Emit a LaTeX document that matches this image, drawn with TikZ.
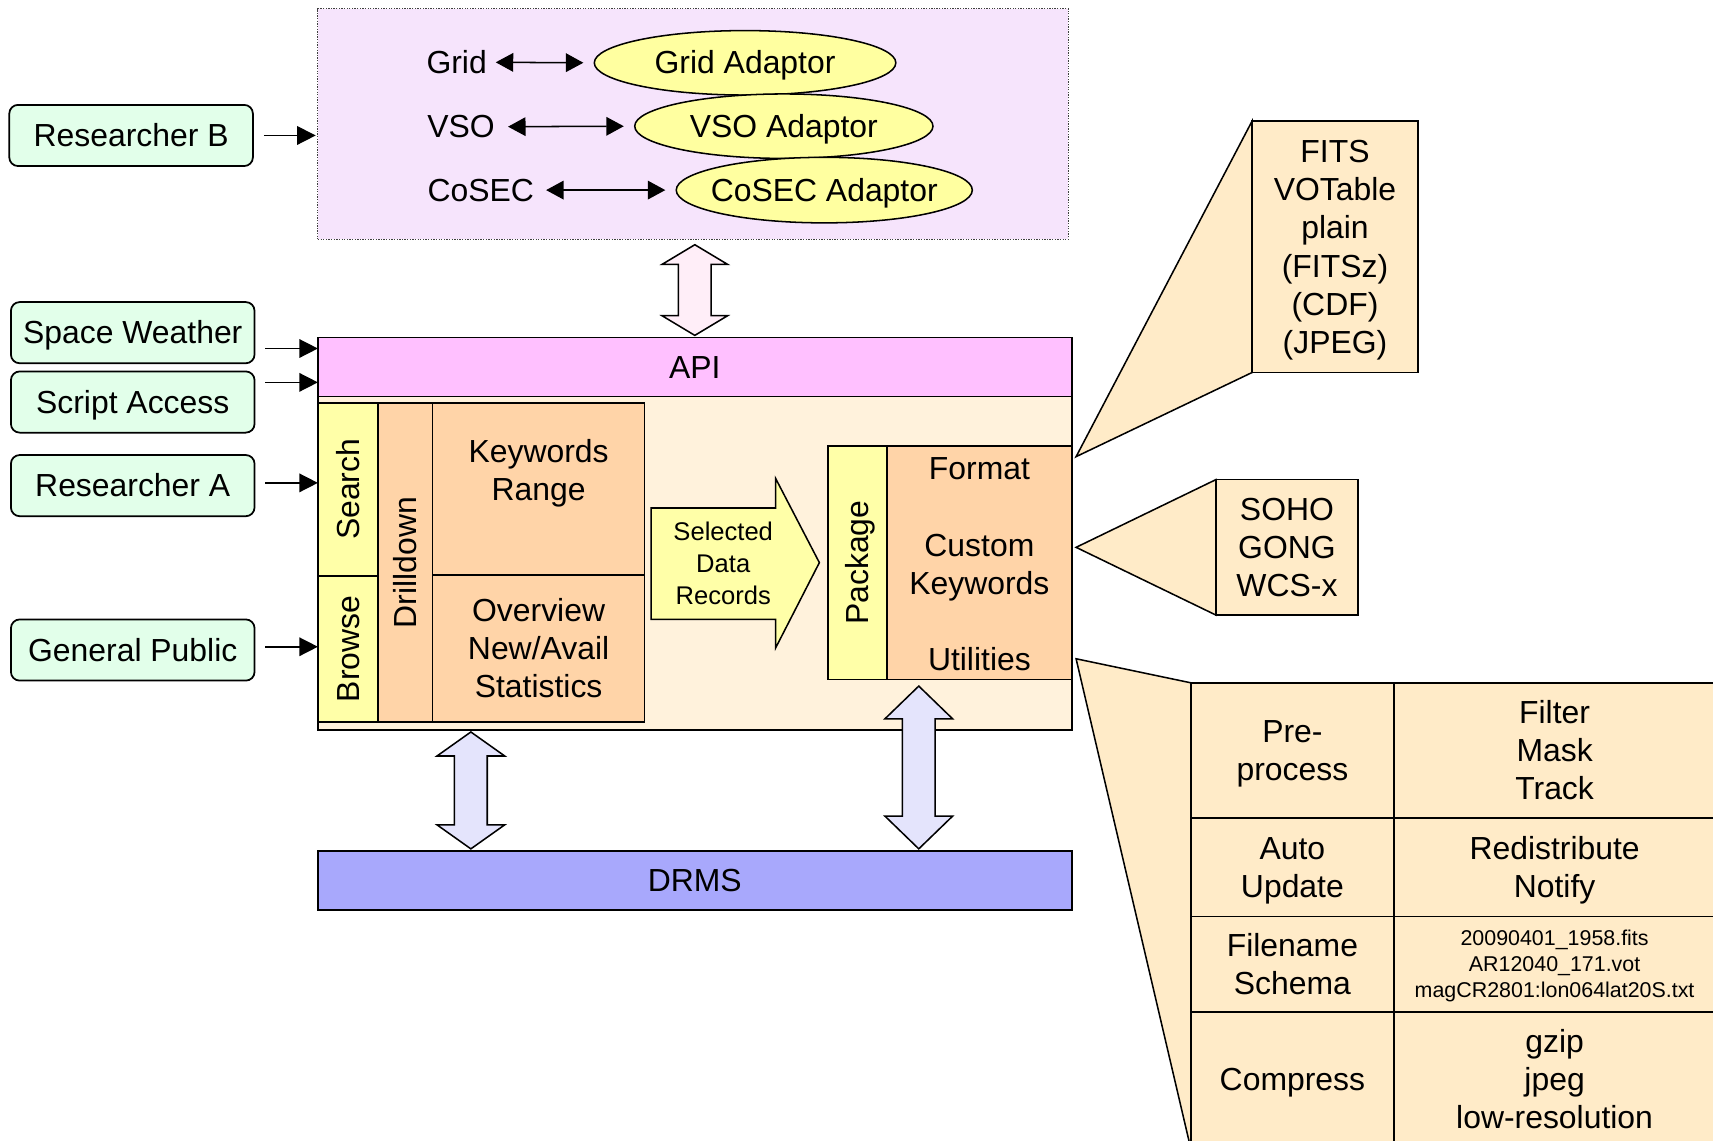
\documentclass[tikz,border=0pt]{standalone}
\usepackage{fontspec}
\setmainfont{Liberation Sans}
\usetikzlibrary{arrows.meta,shapes.geometric}
\definecolor{lavbg}{RGB}{246,228,252}
\definecolor{adyellow}{RGB}{255,255,160}
\definecolor{mint}{RGB}{226,255,234}
\definecolor{apipink}{RGB}{255,192,255}
\definecolor{cream}{RGB}{255,242,220}
\definecolor{paneyellow}{RGB}{255,255,168}
\definecolor{peach}{RGB}{255,212,168}
\definecolor{drmsblue}{RGB}{168,168,252}
\definecolor{lavarrow}{RGB}{228,228,252}
\definecolor{pinkarrow}{RGB}{255,238,248}
\definecolor{callout}{RGB}{255,235,200}
\newcommand\bigfont{\fontsize{29.2bp}{35bp}\selectfont}
\newcommand\midfont{\fontsize{23.4bp}{29bp}\selectfont}
\newcommand\tinyfont{\fontsize{19.6bp}{23.5bp}\selectfont}
\newcommand\lnstrut{\rule[-0.212em]{0pt}{1.117em}}
\newcommand\bdarrow[7]{%
  \filldraw[fill=#7, draw=black, line width=1.4bp, line join=miter]
    (#1,#2) -- (#1+#4,#2+#6) -- (#1+#5,#2+#6) -- (#1+#5,#3-#6) -- (#1+#4,#3-#6)
    -- (#1,#3) -- (#1-#4,#3-#6) -- (#1-#5,#3-#6) -- (#1-#5,#2+#6) -- (#1-#4,#2+#6) -- cycle;}
\tikzset{
  every node/.style={execute at begin node=\lnstrut, execute at end node=\lnstrut},
  box/.style={draw=black, line width=1.6bp, inner sep=0pt, outer sep=0pt, font=\bigfont, align=center},
  greenbox/.style={box, fill=mint, rounded corners=8bp, minimum width=223bp, minimum height=56bp},
  adaptor/.style={box, ellipse, fill=adyellow, line width=1.4bp},
  ypanel/.style={box, fill=paneyellow},
  ppanel/.style={box, fill=peach},
  cobox/.style={box, fill=callout},
  txt/.style={font=\bigfont, inner sep=2bp, align=center},
  conn/.style={line width=1.4bp, -{Triangle[length=17bp,width=17bp]}},
  dconn/.style={line width=1.4bp, {Triangle[length=16bp,width=17bp]}-{Triangle[length=16bp,width=17bp]}},
}
\begin{document}
\begin{tikzpicture}[x=1bp,y=-1bp]
\clip (0,0) rectangle (1568,1044.4);
\fill[white] (0,0) rectangle (1568,1044.4);

% ---- adaptor area
\node[box, draw=black!75, line width=0.9bp, dash pattern=on 1.2bp off 1.2bp, fill=lavbg,
      minimum width=687bp, minimum height=211bp] (adapt) at (634.5,113.5) {};
\node[adaptor, minimum width=276bp, minimum height=59bp] (ga) at (682,57.5) {};
\node[txt] at (ga) {Grid Adaptor};
\node[adaptor, minimum width=273bp, minimum height=59bp] (va) at (717.5,115.5) {};
\node[txt] at (va) {VSO Adaptor};
\node[adaptor, minimum width=271bp, minimum height=60bp] (ca) at (754.5,174) {};
\node[txt] at (ca) {CoSEC Adaptor};
\node[txt] (grid) at (418,57) {Grid};
\node[txt] (vso) at (422,116) {VSO};
\node[txt] (cosec) at (440,174) {CoSEC};
\draw[dconn, shorten <=6bp, shorten >=10bp] (grid.east) -- (ga.west);
\draw[dconn, shorten <=10bp, shorten >=10bp] (vso.east) -- (va.west);
\draw[dconn, shorten <=9bp, shorten >=10bp] (cosec.east) -- (ca.west);

% ---- users
\node[greenbox] (rb) at (120,124) {Researcher B};
\node[greenbox] (sw) at (121.5,304.5) {Space Weather};
\node[greenbox] (sa) at (121.5,368) {Script Access};
\node[greenbox] (ra) at (121.5,444.5) {Researcher A};
\node[greenbox] (gp) at (121.5,595) {General Public};

% ---- main
\node[box, fill=cream, minimum width=690bp, minimum height=305bp] (cont) at (636,515.5) {};
\node[box, fill=apipink, minimum width=690bp, minimum height=54bp] (api) at (636,336) {API};
\node[box, fill=drmsblue, minimum width=690bp, minimum height=54bp] (drms) at (636,806) {DRMS};

\node[ypanel, rotate=90, minimum width=158bp, minimum height=55bp] (search) at (318.5,448) {Search};
\node[ypanel, rotate=90, minimum width=134bp, minimum height=55bp] (browse) at (318.5,594) {Browse};
\node[ppanel, rotate=90, minimum width=292bp, minimum height=50bp] (drill) at (371,515) {Drilldown};
\node[ppanel, minimum width=194bp, minimum height=157bp] (kr) at (493,447.5) {};
\node[txt] (krt) at (493,430.5) {\lnstrut Keywords\\Range};
\node[ppanel, minimum width=194bp, minimum height=135bp] (ov) at (493,593.5) {\lnstrut Overview\\New/Avail\\Statistics};

\filldraw[fill=paneyellow, draw=black, line width=1.4bp, line join=miter]
  (596,465) -- (710,465) -- (710,438) -- (750,515) -- (710,593) -- (710,567) -- (596,567) -- cycle;
\node[font=\midfont, align=center, inner sep=0pt] (sdr) at (662,516) {\lnstrut Selected\\Data\\Records};

\node[ypanel, rotate=90, minimum width=214bp, minimum height=54bp] (pkg) at (785,515) {Package};
\node[ppanel, minimum width=169bp, minimum height=214bp] (fmt) at (896.5,515) {};
\node[txt] (fmt1) at (896.5,429) {Format};
\node[txt] (fmt2) at (896.5,516.5) {\lnstrut Custom\\Keywords};
\node[txt] (fmt3) at (896.5,604) {Utilities};

% ---- block arrows
\bdarrow{636}{224}{307}{30}{15}{18}{pinkarrow}
\bdarrow{431}{670}{777}{31}{15}{22}{lavarrow}
\bdarrow{841}{628}{777}{31}{15}{30}{lavarrow}

% ---- user arrows
\draw[conn, shorten <=10bp, shorten >=2bp] (rb.east) -- (rb.east -| adapt.west);
\coordinate (swa) at ([xshift=10bp,yshift=-14.5bp]sw.east);
\draw[conn] (swa) -- (swa -| api.west);
\coordinate (saa) at ([xshift=10bp,yshift=18bp]sa.east);
\draw[conn] (saa) -- (saa -| api.west);
\coordinate (raa) at ([xshift=10bp,yshift=2.5bp]ra.east);
\draw[conn] (raa) -- (raa -| cont.west);
\coordinate (gpa) at ([xshift=10bp,yshift=3bp]gp.east);
\draw[conn] (gpa) -- (gpa -| cont.west);

% ---- callout 1
\filldraw[fill=callout, draw=black, line width=1.4bp, line join=miter]
  (1146,111) -- (985,418) -- (1146,341) -- cycle;
\node[cobox, minimum width=152bp, minimum height=230bp] (fits) at (1222,226)
  {\lnstrut FITS\\VOTable\\plain\\(FITSz)\\(CDF)\\(JPEG)};

% ---- callout 2
\filldraw[fill=callout, draw=black, line width=1.4bp, line join=miter]
  (1113,439) -- (985,501) -- (1113,563) -- cycle;
\node[cobox, minimum width=130bp, minimum height=124bp] (soho) at (1178,501)
  {\lnstrut SOHO\\GONG\\WCS-x};

% ---- callout 3
\filldraw[fill=callout, draw=black, line width=1.4bp, line join=miter]
  (985,603) -- (1090,625) -- (1090,1060) -- (1092,1060) -- cycle;
\node[cobox, minimum width=186bp, minimum height=124bp] (c11) at (1183,687) {\lnstrut Pre-\\process};
\node[cobox, minimum width=294bp, minimum height=124bp] (c12) at (1423,687) {\lnstrut Filter\\Mask\\Track};
\node[cobox, minimum width=186bp, minimum height=90bp] (c21) at (1183,794) {\lnstrut Auto\\Update};
\node[cobox, minimum width=294bp, minimum height=90bp] (c22) at (1423,794) {\lnstrut Redistribute\\Notify};
\node[cobox, minimum width=186bp, minimum height=87bp] (c31) at (1183,882.5) {\lnstrut Filename\\Schema};
\node[cobox, minimum width=294bp, minimum height=87bp, font=\tinyfont] (c32) at (1423,882.5)
  {\lnstrut 20090401\_1958.fits\\AR12040\_171.vot\\magCR2801:lon064lat20S.txt};
\node[cobox, minimum width=186bp, minimum height=124bp] (c41) at (1183,988) {Compress};
\node[cobox, minimum width=294bp, minimum height=124bp] (c42) at (1423,988) {\lnstrut gzip\\jpeg\\low-resolution};
\end{tikzpicture}
\end{document}
